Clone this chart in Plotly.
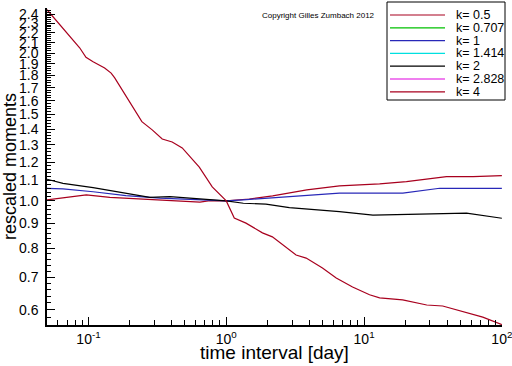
import plotly.graph_objects as go
import math

# ---- data ----
k_labels = ["k= 0.5", "k= 0.707", "k= 1", "k= 1.414", "k= 2", "k= 2.828", "k= 4"]
k_colors = ["#a8001e", "#00c000", "#2828b8", "#00e0e0", "#000000", "#e000e0", "#a8001e"]

x_k05 = [0.05, 0.0653, 0.0964, 0.143, 0.249, 0.435, 0.644, 0.761, 1.0, 1.47, 2.17, 3.84, 6.63, 12.97, 20.3, 39.6, 61.8, 100]
y_k05 = [1.005, 1.016, 1.029, 1.017, 1.008, 1.001, 0.994, 1.001, 1.0, 1.009, 1.024, 1.053, 1.073, 1.083, 1.095, 1.121, 1.121, 1.126]

x_k0707 = []
y_k0707 = []

x_k1 = [0.05, 0.0653, 0.108, 0.187, 0.33, 0.761, 1.0, 1.33, 2.05, 3.84, 6.63, 19.1, 25.3, 35.4, 55.4, 100]
y_k1 = [1.061, 1.058, 1.044, 1.025, 1.013, 1.005, 1.0, 1.005, 1.013, 1.024, 1.037, 1.037, 1.049, 1.061, 1.061, 1.061]

x_k1414 = []
y_k1414 = []

x_k2 = [0.05, 0.0653, 0.108, 0.187, 0.279, 0.39, 0.545, 0.761, 1.0, 1.33, 1.94, 2.87, 5.02, 6.63, 11.6, 20.3, 31.7, 55.4, 100]
y_k2 = [1.107, 1.086, 1.064, 1.037, 1.017, 1.020, 1.013, 1.005, 1.0, 0.989, 0.985, 0.969, 0.959, 0.951, 0.936, 0.939, 0.944, 0.944, 0.922]

x_k2828 = []
y_k2828 = []

x_k4 = [0.05, 0.0653, 0.0863, 0.0959, 0.108, 0.131, 0.146, 0.155, 0.211, 0.244, 0.29, 0.343, 0.405, 0.479,
        0.637, 0.791, 1.0, 1.143, 1.39, 1.83, 2.16, 3.21, 3.80, 4.99, 6.28, 8.25, 10.96, 12.97, 19.05,
        28.5, 37.2, 58.5, 72.7, 100]
y_k4 = [2.45, 2.25, 2.05, 1.96, 1.92, 1.865, 1.82, 1.78, 1.546, 1.45, 1.395, 1.337, 1.318, 1.282,
        1.172, 1.068, 1.0, 0.923, 0.901, 0.861, 0.845, 0.776, 0.765, 0.730, 0.697, 0.668, 0.644, 0.635, 0.629,
        0.614, 0.611, 0.591, 0.580, 0.56]

y_tickvals = [0.6, 0.7, 0.8, 0.9, 1.0, 1.1, 1.2, 1.3, 1.4, 1.5, 1.6, 1.7, 1.8, 1.9, 2.0, 2.1, 2.2, 2.3, 2.4]
y_ticktext = ["0.6", "0.7", "0.8", "0.9", "1.0", "1.1", "1.2", "1.3", "1.4", "1.5", "1.6", "1.7", "1.8",
              "1.9", "2.0", "2.1", "2.2", "2.3", "2.4"]
x_tickvals = [0.1, 1, 10, 100]
x_ticktext = ["10<sup>-1</sup>", "10<sup>0</sup>", "10<sup>1</sup>", "10<sup>2</sup>"]

x_range = [0.05, 100]
y_range = [0.559, 2.47]

series = [(x_k05, y_k05), (x_k0707, y_k0707), (x_k1, y_k1), (x_k1414, y_k1414),
          (x_k2, y_k2), (x_k2828, y_k2828), (x_k4, y_k4)]

# minor tick positions
x_minor = [m * 10 ** e for e in (-2, -1, 0, 1) for m in range(2, 10) if 0.05 <= m * 10 ** e <= 100]
y_minor = [round(0.56 + 0.02 * i, 2) for i in range(96) if 0.56 + 0.02 * i <= 2.47]

FONT = "Liberation Sans, Arial, sans-serif"

fig = go.Figure()
for (xs, ys), name, col in zip(series, k_labels, k_colors):
    fig.add_trace(go.Scatter(x=xs, y=ys, mode="lines", name=name, showlegend=False,
                             line=dict(color=col, width=1.2)))

# ---- legend box drawn in paper coordinates (layout only) ----
W, H = 512, 366
ML, MR, MT, MB = 47, 10, 8, 41
pw, ph = W - ML - MR, H - MT - MB
def px(xp):
    return (xp - ML) / pw
def py(yp):
    return (H - MB - yp) / ph

shapes = [dict(type="rect", xref="paper", yref="paper", x0=px(387), x1=px(505), y0=py(100), y1=py(2),
               line=dict(color="black", width=1), fillcolor="white", layer="above")]
annotations = []
for i, (name, col) in enumerate(zip(k_labels, k_colors)):
    yy = 15 + i * 12.8
    shapes.append(dict(type="line", xref="paper", yref="paper", x0=px(390), x1=px(445),
                       y0=py(yy), y1=py(yy), line=dict(color=col, width=1.2), layer="above"))
    annotations.append(dict(text=name, xref="paper", yref="paper", x=px(454), y=py(yy),
                            xanchor="left", yanchor="middle", showarrow=False,
                            font=dict(size=12.5, family=FONT)))

annotations += [
    dict(text="Copyright Gilles Zumbach 2012", xref="paper", yref="paper",
         x=px(318), y=py(16), showarrow=False, font=dict(size=8, family=FONT),
         xanchor="center", yanchor="middle"),
    dict(text="time interval [day]", xref="paper", yref="paper",
         x=px(274), y=py(352), showarrow=False, font=dict(size=19, family=FONT),
         xanchor="center", yanchor="middle"),
]

fig.update_layout(
    width=W, height=H,
    margin=dict(l=ML, r=MR, t=MT, b=MB),
    paper_bgcolor="white", plot_bgcolor="white",
    font=dict(family=FONT, color="black", size=14),
    showlegend=False,
    shapes=shapes,
    annotations=annotations,
)

fig.update_xaxes(
    type="log", range=[math.log10(x_range[0]), math.log10(x_range[1]) + 0.001],
    showgrid=False, zeroline=False, showline=True, linecolor="black", linewidth=1.5,
    ticks="inside", ticklen=8, tickwidth=1.2, tickcolor="black",
    tickmode="array", tickvals=x_tickvals, ticktext=x_ticktext,
    minor=dict(ticks="inside", ticklen=5, tickwidth=1, tickcolor="black", showgrid=False,
               tickmode="array", tickvals=x_minor),
    tickfont=dict(size=14, family=FONT),
    ticklabeloverflow="allow",
    automargin=False,
)

fig.update_yaxes(
    type="log", range=[math.log10(y_range[0]), math.log10(y_range[1])],
    showgrid=False, zeroline=False, showline=True, linecolor="black", linewidth=1.5,
    ticks="inside", ticklen=8, tickwidth=1.2, tickcolor="black",
    tickmode="array", tickvals=y_tickvals, ticktext=y_ticktext,
    minor=dict(ticks="inside", ticklen=4, tickwidth=1, tickcolor="black", showgrid=False,
               tickmode="array", tickvals=y_minor),
    title=dict(text="rescaled moments", font=dict(size=18, family=FONT), standoff=3),
    tickfont=dict(size=14, family=FONT),
    ticklabelstandoff=4,
    automargin=False,
)

fig.write_html("out.html", config={"displayModeBar": False},
               post_script="document.body.style.margin='0';document.body.style.overflow='hidden';")
